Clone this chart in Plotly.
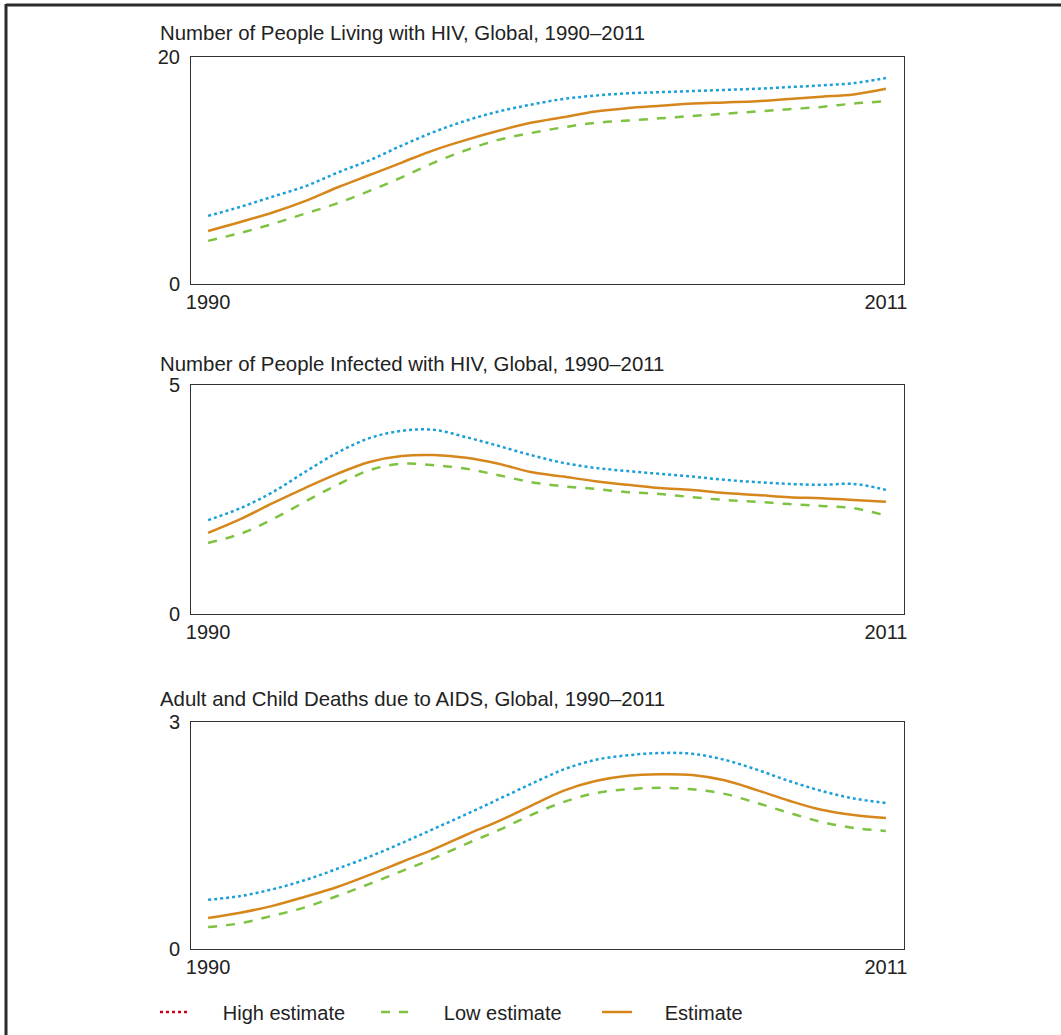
import plotly.graph_objects as go
from plotly.subplots import make_subplots

# Years shared by all three panels
years = list(range(1990, 2012))

# Number of people living with HIV (millions)
living_high = [6.0, 6.8, 7.7, 8.6, 9.8, 10.9, 12.2, 13.4, 14.4, 15.2, 15.8, 16.3, 16.6, 16.8, 16.9, 17.0, 17.1, 17.2, 17.35, 17.5, 17.7, 18.15]
living_est = [4.67, 5.46, 6.3, 7.3, 8.5, 9.6, 10.7, 11.8, 12.7, 13.5, 14.2, 14.7, 15.2, 15.5, 15.7, 15.9, 16.0, 16.1, 16.3, 16.5, 16.7, 17.2]
living_low = [3.8, 4.5, 5.3, 6.2, 7.1, 8.2, 9.4, 10.7, 11.8, 12.7, 13.3, 13.8, 14.2, 14.4, 14.6, 14.8, 15.0, 15.2, 15.4, 15.6, 15.9, 16.1]

# Number of people newly infected with HIV (millions)
infected_high = [2.05, 2.31, 2.66, 3.1, 3.52, 3.84, 4.0, 4.02, 3.86, 3.67, 3.47, 3.3, 3.19, 3.12, 3.06, 3.0, 2.93, 2.88, 2.84, 2.82, 2.84, 2.71]
infected_est = [1.77, 2.07, 2.42, 2.75, 3.06, 3.32, 3.45, 3.47, 3.41, 3.28, 3.1, 3.0, 2.9, 2.82, 2.75, 2.71, 2.64, 2.6, 2.55, 2.53, 2.49, 2.45]
infected_low = [1.55, 1.75, 2.07, 2.45, 2.82, 3.14, 3.28, 3.25, 3.17, 3.03, 2.88, 2.79, 2.73, 2.66, 2.62, 2.55, 2.49, 2.45, 2.4, 2.36, 2.31, 2.15]

# Adult and child deaths due to AIDS (millions)
deaths_high = [0.65, 0.70, 0.79, 0.91, 1.06, 1.22, 1.40, 1.59, 1.78, 1.98, 2.18, 2.37, 2.50, 2.56, 2.59, 2.58, 2.50, 2.37, 2.22, 2.09, 1.99, 1.93]
deaths_est = [0.41, 0.48, 0.57, 0.69, 0.82, 0.98, 1.15, 1.32, 1.51, 1.69, 1.89, 2.09, 2.22, 2.29, 2.31, 2.30, 2.23, 2.10, 1.96, 1.84, 1.77, 1.73]
deaths_low = [0.29, 0.34, 0.44, 0.55, 0.70, 0.86, 1.03, 1.20, 1.39, 1.57, 1.77, 1.94, 2.06, 2.11, 2.13, 2.11, 2.05, 1.93, 1.80, 1.68, 1.60, 1.56]

panel_titles = [
    "Number of People Living with HIV, Global, 1990–2011",
    "Number of People Infected with HIV, Global, 1990–2011",
    "Adult and Child Deaths due to AIDS, Global, 1990–2011",
]
y_max = [20, 5, 3]
x_ticks = [1990, 2011]
legend_names = ["High estimate", "Low estimate", "Estimate"]

BLUE = "#1a9fd8"
GREEN = "#7ec242"
ORANGE = "#d6861a"
RED = "#d0021b"
TEXT = "#222222"
FONT = "Liberation Sans, Arial, sans-serif"
FS = 20

panels = [
    (living_high, living_low, living_est),
    (infected_high, infected_low, infected_est),
    (deaths_high, deaths_low, deaths_est),
]

W, H = 1061, 1035
L, R, T, B = 191, 157, 57, 86
plot_w = W - L - R
plot_h = H - T - B


def px_to_paper_y(py):
    return (H - B - py) / plot_h


def px_to_paper_x(px):
    return (px - L) / plot_w


# panel vertical extents in pixels (top, bottom)
panel_px = [(57, 284), (385, 614), (722, 949)]
title_px = [33, 364, 699]

fig = make_subplots(rows=3, cols=1)

for i, (hi, lo, est) in enumerate(panels):
    r = i + 1
    fig.add_trace(go.Scatter(x=years, y=hi, mode="lines", line=dict(color=BLUE, width=2.5, dash="dot", shape="spline"),
                             showlegend=False, hoverinfo="skip"), row=r, col=1)
    fig.add_trace(go.Scatter(x=years, y=lo, mode="lines", line=dict(color=GREEN, width=2.5, dash="dash", shape="spline"),
                             showlegend=False, hoverinfo="skip"), row=r, col=1)
    fig.add_trace(go.Scatter(x=years, y=est, mode="lines", line=dict(color=ORANGE, width=2.5, shape="spline"),
                             showlegend=False, hoverinfo="skip"), row=r, col=1)

# legend entries (text padded so it sits further from the sample line)
PAD = "\u00a0" * 5
for name, color, dash in zip(legend_names, [RED, GREEN, ORANGE], ["dot", "dash", "solid"]):
    fig.add_trace(go.Scatter(x=[None], y=[None], mode="lines", name=PAD + name,
                             line=dict(color=color, width=2.5, dash=dash)), row=1, col=1)

for i in range(3):
    top, bot = panel_px[i]
    ax_suffix = "" if i == 0 else str(i + 1)
    fig.layout["yaxis" + ax_suffix].update(
        domain=[px_to_paper_y(bot), px_to_paper_y(top)],
        range=[0, y_max[i]], tickvals=[0, y_max[i]], showgrid=False, zeroline=False,
        showline=True, mirror=True, linecolor="#333333", linewidth=1,
        ticks="", ticklabelstandoff=6, tickfont=dict(size=FS, color=TEXT, family=FONT),
    )
    fig.layout["xaxis" + ax_suffix].update(
        range=[1989.47, 2011.56], tickvals=x_ticks, showgrid=False, zeroline=False,
        showline=True, mirror=True, linecolor="#333333", linewidth=1,
        ticks="", ticklabelstandoff=0, tickfont=dict(size=FS, color=TEXT, family=FONT),
    )
    fig.add_annotation(text=panel_titles[i], xref="paper", yref="paper",
                       x=px_to_paper_x(158), y=px_to_paper_y(title_px[i]),
                       xanchor="left", yanchor="middle", showarrow=False,
                       font=dict(size=20.4, color=TEXT, family=FONT))

# outer frame: top and left rules
fig.add_shape(type="line", xref="paper", yref="paper",
              x0=px_to_paper_x(6), x1=px_to_paper_x(W + 5), y0=px_to_paper_y(5), y1=px_to_paper_y(5),
              line=dict(color="#2a2a2a", width=3))
fig.add_shape(type="line", xref="paper", yref="paper",
              x0=px_to_paper_x(6), x1=px_to_paper_x(6), y0=px_to_paper_y(4), y1=px_to_paper_y(H + 5),
              line=dict(color="#2a2a2a", width=3))

fig.update_layout(
    width=W, height=H,
    margin=dict(l=L, r=R, t=T, b=B, autoexpand=False),
    paper_bgcolor="white", plot_bgcolor="white",
    font=dict(family=FONT, color=TEXT, size=FS),
    legend=dict(orientation="h", x=px_to_paper_x(155), y=px_to_paper_y(1012),
                xanchor="left", yanchor="middle", entrywidth=176,
                font=dict(size=FS, color=TEXT, family=FONT), bgcolor="rgba(0,0,0,0)"),
)

fig.write_html("out.html")
